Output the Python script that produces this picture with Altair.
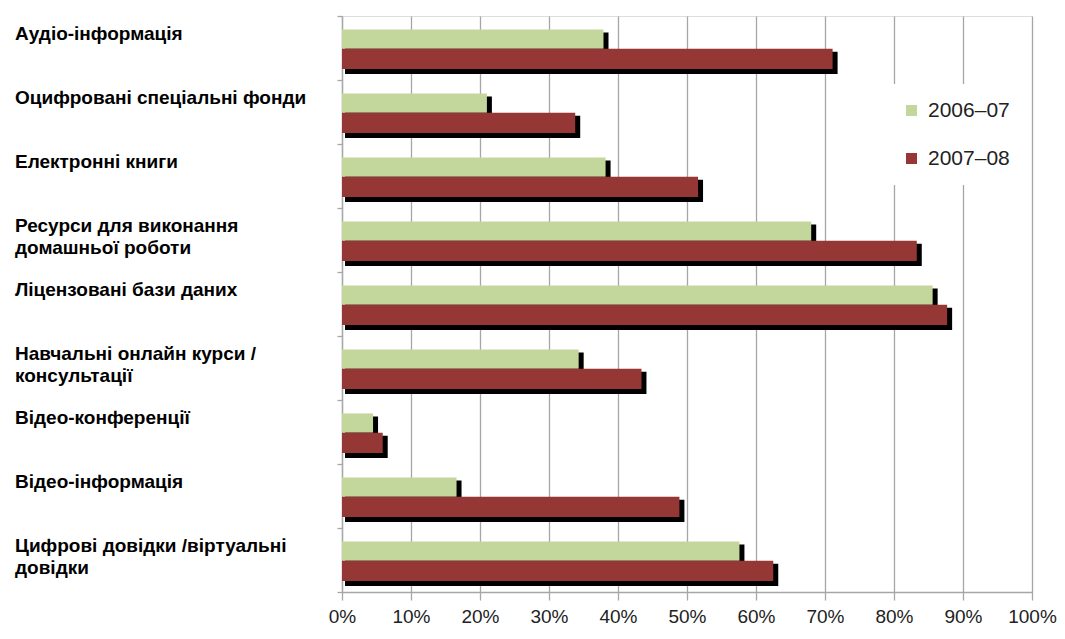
import altair as alt
import pandas as pd

# ---- data ----
categories = [
    "Аудіо-інформація",
    "Оцифровані спеціальні фонди",
    "Електронні  книги",
    "Ресурси для виконання\nдомашньої роботи",
    "Ліцензовані бази даних",
    "Навчальні онлайн курси /\nконсультації",
    "Відео-конференції",
    "Відео-інформація",
    "Цифрові довідки /віртуальні\nдовідки",
]
series = ["2006–07", "2007–08"]
values_2006_07 = [37.9, 21.0, 38.2, 68.0, 85.6, 34.3, 4.5, 16.6, 57.6]
values_2007_08 = [71.1, 33.8, 51.6, 83.3, 87.7, 43.4, 5.9, 48.9, 62.5]
x_tick_values = [0, 10, 20, 30, 40, 50, 60, 70, 80, 90, 100]
colors = ["#C3D69B", "#953735"]

# layout of the two bars inside each category band (fractions of the band)
slot_start = {"2006–07": 0.21, "2007–08": 0.51}
slot_end = {"2006–07": 0.51, "2007–08": 0.83}
label_top = 0.14

rows = []
for i, cat in enumerate(categories):
    for s, vals in zip(series, [values_2006_07, values_2007_08]):
        rows.append({
            "category": cat,
            "series": s,
            "x0": 0.0,
            "value": vals[i] / 100.0,
            "y0": i + slot_start[s],
            "y1": i + slot_end[s],
        })
df = pd.DataFrame(rows)
labels_df = pd.DataFrame({
    "category": categories,
    "ypos": [i + label_top for i in range(len(categories))],
})

GRID = "#A6A6A6"

x_scale = alt.Scale(domain=[0, 1], nice=False, zero=True)
y_scale = alt.Scale(domain=[0, len(categories)], reverse=True, nice=False, zero=False)

x_axis = alt.Axis(
    values=[v / 100 for v in x_tick_values], format=".0%", title=None,
    grid=True, gridColor=GRID, gridWidth=1.3,
    domainColor=GRID, domainWidth=1.3, tickColor=GRID, tickWidth=1.3, tickSize=8,
    labelFont="Liberation Sans", labelFontSize=19, labelColor="#222222",
    labelPadding=7, labelFlush=False,
)
y_axis = alt.Axis(
    values=list(range(len(categories) + 1)), labels=False, title=None, grid=False,
    domainColor=GRID, domainWidth=1.3, tickColor=GRID, tickWidth=1.3, tickSize=5,
)

X = alt.X("x0:Q", scale=x_scale, axis=x_axis)
Y = alt.Y("y0:Q", scale=y_scale, axis=y_axis)

base = alt.Chart(df)

shadow = base.mark_bar(
    color="black", xOffset=3, x2Offset=5, yOffset=3, y2Offset=5
).encode(x=X, x2="value:Q", y=Y, y2="y1:Q")

bars = base.mark_bar().encode(
    x=X, x2="value:Q", y=Y, y2="y1:Q",
    color=alt.Color(
        "series:N",
        scale=alt.Scale(domain=series, range=colors),
        legend=alt.Legend(
            title=None, orient="none", legendX=543, legendY=68,
            padding=16, fillColor="white", symbolType="square", symbolSize=121,
            symbolStrokeWidth=0, labelFont="Liberation Sans", labelFontSize=21,
            labelColor="#222222", labelOffset=6, rowPadding=26,
        ),
    ),
)

labels = alt.Chart(labels_df).mark_text(
    align="left", baseline="top", font="Liberation Sans", fontSize=19,
    fontWeight="bold", lineBreak="\n", lineHeight=22, color="black",
).encode(
    x=alt.value(-327),
    y=alt.Y("ypos:Q", scale=y_scale, axis=y_axis),
    text="category:N",
)

chart = alt.layer(shadow, bars, labels).properties(
    width=690, height=576,
    autosize=alt.AutoSizeParams(type="none"),
    padding={"left": 334, "top": 8, "right": 25, "bottom": 39},
).configure_view(stroke=None).configure(background="white")

chart.save("out.html", embed_options={"renderer": "svg", "actions": False})
